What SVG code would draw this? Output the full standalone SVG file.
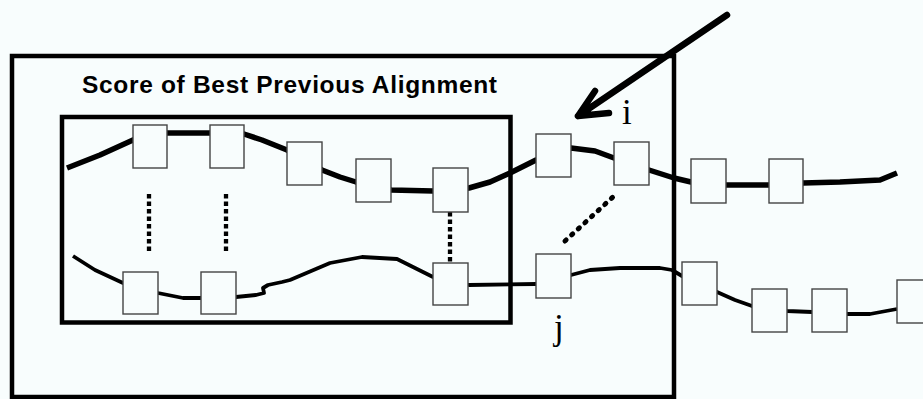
<svg xmlns="http://www.w3.org/2000/svg" width="923" height="399" viewBox="0 0 923 399">
<style>
.bg{fill:#f8fdfd}
.frame{fill:none;stroke:#000;stroke-width:4.5}
.box{fill:#f8fdfd;stroke:#444;stroke-width:1.4}
.seq1{fill:none;stroke:#000;stroke-width:5.5;stroke-linejoin:round;stroke-linecap:butt}
.seq2{fill:none;stroke:#000;stroke-width:3.8;stroke-linejoin:round;stroke-linecap:butt}
.vdot{fill:none;stroke:#000;stroke-width:4.3;stroke-dasharray:4.5 3}
.ddot{fill:none;stroke:#000;stroke-width:5;stroke-linecap:round;stroke-dasharray:1.5 7.5}
.arrow{fill:none;stroke:#000;stroke-width:6.5;stroke-linecap:round;stroke-linejoin:round}
.title{font-family:"Liberation Sans",Arial,sans-serif;font-weight:bold;font-size:24.5px;fill:#000}
.lbl{font-family:"Liberation Serif","Times New Roman",serif;font-size:35px;fill:#000}
</style>
<rect class="bg" x="0" y="0" width="923" height="399"/>
<g id="outer-box">
<rect class="frame" x="12" y="56" width="662" height="341"/>
</g>
<g id="inner-box">
<rect class="frame" x="62" y="117" width="448.5" height="205.5" stroke-width="4"/>
<text class="title" x="82" y="93" textLength="415" lengthAdjust="spacing">Score of Best Previous Alignment</text>
</g>
<g id="connectors">
<path class="seq1" d="M67,168 L100,155 L133,140 L167,133 L210,133 L244,134 L262,140 L287,150 L322,170 L340,177 L356,182 L391,190 L433,191 L469,188 L490,182 L510,173 L536,160 L571,148 L595,151 L614,158 L649,170 L674,178 L691,182 L726,185 L769,185 L803,183 L840,182 L880,180 L897,173"/>
<path class="seq2" d="M73,256 L95,270 L123,283 L158,293 L183,298 L201,298 L236,297 L256,295 L264,293 L263,288 L268,285 L282,282 L290,280 L330,263 L362,257 L397,259 L415,268 L433,277 L469,285 L536,284 L571,275 L590,270 L620,268 L660,268 L672,270 L682,276 L717,292 L735,300 L752,306 L787,311 L812,312 L847,314 L870,314 L897,309"/>
<line class="vdot" x1="149" y1="194" x2="149" y2="253"/>
<line class="vdot" x1="226" y1="194" x2="226" y2="253"/>
<line class="vdot" x1="450" y1="212" x2="450" y2="272"/>
<line class="ddot" x1="565" y1="241" x2="614" y2="196"/>
<path class="arrow" d="M727,15 L578,116 M595,91 L578,116 L609,113"/>
</g>
<g id="a1"><rect class="box" x="133" y="125" width="34" height="43"/></g>
<g id="a2"><rect class="box" x="210" y="125" width="34" height="43"/></g>
<g id="a3"><rect class="box" x="287" y="142" width="35" height="43"/></g>
<g id="a4"><rect class="box" x="356" y="159" width="35" height="43"/></g>
<g id="a5"><rect class="box" x="433" y="168" width="35" height="44"/></g>
<g id="a6"><rect class="box" x="536" y="134" width="35" height="43"/></g>
<g id="a7"><rect class="box" x="614" y="142" width="35" height="43"/></g>
<g id="a8"><rect class="box" x="691" y="159" width="35" height="44"/></g>
<g id="a9"><rect class="box" x="769" y="159" width="34" height="44"/></g>
<g id="b1"><rect class="box" x="123" y="272" width="35" height="42"/></g>
<g id="b2"><rect class="box" x="201" y="272" width="35" height="42"/></g>
<g id="b3"><rect class="box" x="433" y="263" width="35" height="42"/></g>
<g id="b4"><rect class="box" x="536" y="254" width="35" height="44"/></g>
<g id="b5"><rect class="box" x="682" y="262" width="35" height="43"/></g>
<g id="b6"><rect class="box" x="752" y="289" width="35" height="43"/></g>
<g id="b7"><rect class="box" x="812" y="289" width="35" height="43"/></g>
<g id="b8"><rect class="box" x="897" y="280" width="35" height="43"/></g>
<g id="label-i"><text class="lbl" x="622" y="124">i</text></g>
<g id="label-j"><text class="lbl" x="554" y="339">j</text></g>
</svg>
